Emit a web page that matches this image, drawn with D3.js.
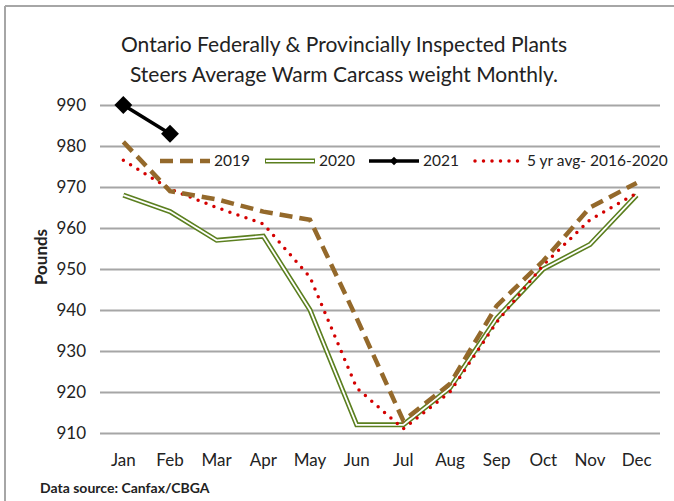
<!DOCTYPE html>
<html lang="en">
<head>
    <meta charset="UTF-8">
    <title>Ontario steers carcass weight</title>
    <style>
        body { margin: 0; background: #fff; }
        svg text { font-family: Lato, "Open Sans", sans-serif; fill: #222; }
        .grid line { stroke: #a6a6a6; stroke-width: 2; }
        .grid path { display: none; }
    </style>
</head>
<body>
<script src="https://cdn.jsdelivr.net/npm/d3@7/dist/d3.min.js"></script>
<script>
    var width = 674;
    var height = 501;

    // data
    var months = ["Jan", "Feb", "Mar", "Apr", "May", "Jun", "Jul", "Aug", "Sep", "Oct", "Nov", "Dec"];
    var y2019 = [981, 969, 967, 964, 962, 938, 913, 922, 941, 952, 965, 971];
    var y2020 = [968, 964, 957, 958, 940, 912, 912, 921, 938, 950, 956, 968];
    var y2021 = [990, 983];
    var avg5 = [976.5, 969.5, 965, 961, 948, 921, 911, 920, 937, 951, 962, 968.5];
    var yTicks = [910, 920, 930, 940, 950, 960, 970, 980, 990];
    var seriesNames = ["2019", "2020", "2021", "5 yr avg- 2016-2020"];

    var svg = d3.select("body").append("svg")
        .attr("width", width)
        .attr("height", height);

    // outer frame (top + left only, like the cropped original)
    svg.append("line").attr("x1", 5).attr("y1", 6).attr("x2", width).attr("y2", 6)
        .attr("stroke", "#a6a6a6").attr("stroke-width", 2);
    svg.append("line").attr("x1", 5).attr("y1", 6).attr("x2", 5).attr("y2", height)
        .attr("stroke", "#a6a6a6").attr("stroke-width", 2);

    var x = d3.scaleBand().domain(months).range([100, 660]);
    var y = d3.scaleLinear().domain([910, 990]).range([433, 105]);
    var cx = function(d, i) { return x(months[i]) + x.bandwidth() / 2; };

    // gridlines
    svg.append("g")
        .attr("class", "grid")
        .attr("transform", "translate(100,0)")
        .call(d3.axisLeft(y).tickValues(yTicks).tickSize(-560).tickFormat(""));

    // y labels
    svg.append("g").selectAll("text")
        .data(yTicks).enter().append("text")
        .attr("x", 86).attr("y", function(d) { return y(d); })
        .attr("dy", "0.35em").attr("text-anchor", "end")
        .style("font-size", "17px")
        .text(function(d) { return d; });

    // x labels
    svg.append("g").selectAll("text")
        .data(months).enter().append("text")
        .attr("x", function(d) { return x(d) + x.bandwidth() / 2; })
        .attr("y", 466).attr("text-anchor", "middle")
        .style("font-size", "17px")
        .text(function(d) { return d; });

    var line = d3.line().x(cx).y(function(d) { return y(d); });

    // 2020 double line
    svg.append("path").datum(y2020).attr("d", line)
        .attr("fill", "none").attr("stroke", "#5b7f1f").attr("stroke-width", 5);
    svg.append("path").datum(y2020).attr("d", line)
        .attr("fill", "none").attr("stroke", "#fff").attr("stroke-width", 1.8);

    // 5 yr avg dotted
    svg.append("path").datum(avg5).attr("d", line)
        .attr("fill", "none").attr("stroke", "#d40000").attr("stroke-width", 3.5)
        .attr("stroke-linecap", "round").attr("stroke-dasharray", "0 8.5");

    // 2019 dashed
    svg.append("path").datum(y2019).attr("d", line)
        .attr("fill", "none").attr("stroke", "#94692b").attr("stroke-width", 4.5)
        .attr("stroke-dasharray", "13 7");

    // 2021
    svg.append("path").datum(y2021).attr("d", line)
        .attr("fill", "none").attr("stroke", "#000").attr("stroke-width", 3.5);
    var diamond = d3.symbol().type(d3.symbolSquare).size(160);
    svg.append("g").selectAll("path")
        .data(y2021).enter().append("path")
        .attr("d", diamond)
        .attr("transform", function(d, i) { return "translate(" + cx(d, i) + "," + y(d) + ") rotate(45)"; })
        .attr("fill", "#000");

    // legend
    var ly = 161;
    var lx = [160, 265, 369, 473];
    var lg = svg.append("g");
    lg.append("line").attr("x1", lx[0]).attr("x2", lx[0] + 50).attr("y1", ly).attr("y2", ly)
        .attr("stroke", "#94692b").attr("stroke-width", 4.5).attr("stroke-dasharray", "13 7");
    lg.append("line").attr("x1", lx[1]).attr("x2", lx[1] + 50).attr("y1", ly).attr("y2", ly)
        .attr("stroke", "#5b7f1f").attr("stroke-width", 5);
    lg.append("line").attr("x1", lx[1] + 1).attr("x2", lx[1] + 49).attr("y1", ly).attr("y2", ly)
        .attr("stroke", "#fff").attr("stroke-width", 1.8);
    lg.append("line").attr("x1", lx[2]).attr("x2", lx[2] + 50).attr("y1", ly).attr("y2", ly)
        .attr("stroke", "#000").attr("stroke-width", 3.5);
    lg.append("path").attr("d", d3.symbol().type(d3.symbolSquare).size(36))
        .attr("transform", "translate(" + (lx[2] + 25) + "," + ly + ") rotate(45)").attr("fill", "#000");
    lg.append("line").attr("x1", lx[3] + 2).attr("x2", lx[3] + 48).attr("y1", ly).attr("y2", ly)
        .attr("stroke", "#d40000").attr("stroke-width", 3.5)
        .attr("stroke-linecap", "round").attr("stroke-dasharray", "0 8.5");
    lg.selectAll("text.leg")
        .data(seriesNames).enter().append("text")
        .attr("class", "leg")
        .attr("x", function(d, i) { return lx[i] + 54; })
        .attr("y", ly).attr("dy", "0.35em")
        .style("font-size", "15.5px")
        .text(function(d) { return d; });

    // title
    svg.append("text").attr("x", 344).attr("y", 52).attr("text-anchor", "middle")
        .style("font-size", "21px").text("Ontario Federally & Provincially Inspected Plants");
    svg.append("text").attr("x", 344).attr("y", 82).attr("text-anchor", "middle")
        .style("font-size", "21px").text("Steers Average Warm Carcass weight Monthly.");

    // axis title
    svg.append("text")
        .attr("transform", "translate(47,257) rotate(-90)")
        .attr("text-anchor", "middle")
        .style("font-size", "17px").style("font-weight", "bold")
        .text("Pounds");

    // source
    svg.append("text").attr("x", 40).attr("y", 493)
        .style("font-size", "14px").style("font-weight", "bold")
        .text("Data source: Canfax/CBGA");
</script>
</body>
</html>
